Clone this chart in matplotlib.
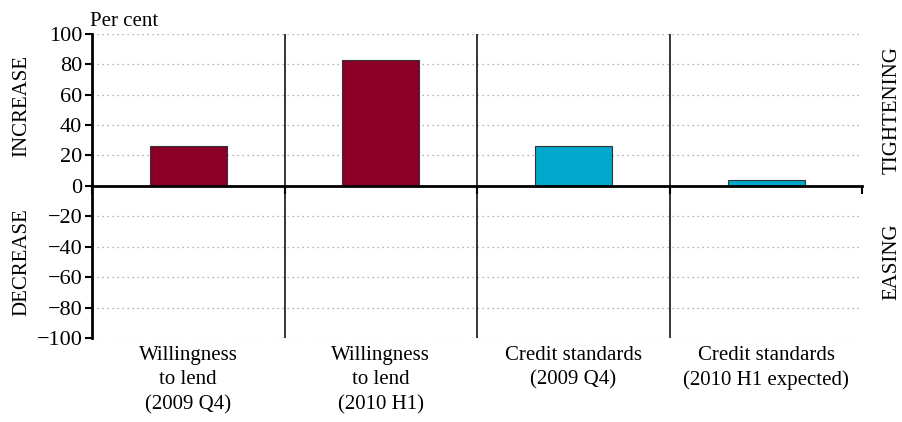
import numpy as np
import matplotlib.pyplot as plt
from matplotlib.transforms import blended_transform_factory

# survey categories and net balances #
categories = ['Willingness\nto lend\n(2009 Q4)',
              'Willingness\nto lend\n(2010 H1)',
              'Credit standards\n(2009 Q4)',
              'Credit standards\n(2010 H1 expected)']
net_balance = [26, 83, 26, 4]
bar_colors = ['#8c0028', '#8c0028', '#00a8cc', '#00a8cc']
yticks = list(range(-100, 101, 20))

plt.rcParams['font.family'] = ['Liberation Serif', 'DejaVu Serif']
plt.rcParams['font.size'] = 15

fig = plt.figure(figsize=(9.02, 4.22), dpi=100)
ax = fig.add_axes([0.102, 0.199, 0.854, 0.721])

x = np.arange(len(categories))
ax.bar(x, net_balance, width=0.4, color=bar_colors, edgecolor='#333333', linewidth=0.8, zorder=3)

ax.set_xlim(-0.5, len(categories) - 0.5)
ax.set_ylim(-100, 100)

# dotted grid #
for yv in yticks:
  if yv != 0:
    ax.axhline(yv, color='#9a9a9a', linestyle=(0, (1, 3)), linewidth=0.9, zorder=1)

# dividers between the groups #
edges = np.arange(len(categories) + 1) - 0.5
for xe in edges[1:-1]:
  ax.axvline(xe, color='black', linewidth=1.1, zorder=2)

# spines #
ax.spines['top'].set_visible(False)
ax.spines['right'].set_visible(False)
ax.spines['left'].set_linewidth(2)
ax.spines['bottom'].set_position(('data', 0))
ax.spines['bottom'].set_linewidth(2)
ax.spines['bottom'].set_zorder(4)

ax.set_yticks(yticks)
ax.set_yticklabels([str(v).replace('-', '\u2212') for v in yticks])
ax.tick_params(axis='y', direction='out', length=5, width=1.5, pad=2, labelsize=16)
ax.set_xticks(edges)
ax.set_xticklabels([])
ax.tick_params(axis='x', direction='out', length=6, width=1.5)

# category labels below the plot #
trans = blended_transform_factory(ax.transData, ax.transAxes)
for xi, lab in zip(x, categories):
  ax.text(xi, -0.025, lab, transform=trans, ha='center', va='top', fontsize=15, linespacing=1.4)

ax.text(-0.003, 1.008, 'Per cent', transform=ax.transAxes, ha='left', va='bottom', fontsize=15)

# side annotations #
fig.text(0.024, 1 - 106 / 422, 'INCREASE', rotation=90, ha='center', va='center', fontsize=15)
fig.text(0.024, 1 - 262 / 422, 'DECREASE', rotation=90, ha='center', va='center', fontsize=15)
fig.text(0.989, 1 - 110 / 422, 'TIGHTENING', rotation=90, ha='center', va='center', fontsize=15)
fig.text(0.989, 1 - 262 / 422, 'EASING', rotation=90, ha='center', va='center', fontsize=15)

fig.savefig('out.png', dpi=100)
